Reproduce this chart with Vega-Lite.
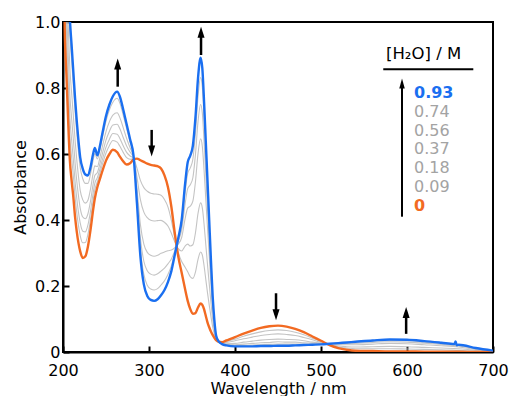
{
"$schema": "https://vega.github.io/schema/vega-lite/v6.json",
"width": 430, "height": 330,
"autosize": {"type": "none"},
"padding": {"left": 63, "top": 22, "right": 17, "bottom": 44},
"background": "white",
"config": {
  "font": "DejaVu Sans",
  "view": {"stroke": "black", "strokeWidth": 2},
  "axis": {"grid": false, "domainColor": "black", "domainWidth": 2, "tickColor": "black", "tickWidth": 2, "tickSize": -6, "labelColor": "black", "labelFontSize": 16, "titleColor": "black", "titleFontSize": 16, "titleFontWeight": "normal", "labelFlush": false}
},
"datasets": {"s": [
{"w":200,"c":"0","a":1.40},{"w":202,"c":"0","a":0.98},{"w":204,"c":"0","a":0.84},{"w":206,"c":"0","a":0.70},{"w":208,"c":"0","a":0.58},{"w":210,"c":"0","a":0.52},{"w":212,"c":"0","a":0.47},{"w":214,"c":"0","a":0.41},{"w":216,"c":"0","a":0.365},{"w":218,"c":"0","a":0.33},{"w":220,"c":"0","a":0.305},{"w":223,"c":"0","a":0.285},{"w":226,"c":"0","a":0.29},{"w":229,"c":"0","a":0.32},{"w":232,"c":"0","a":0.37},{"w":235,"c":"0","a":0.43},{"w":237,"c":"0","a":0.465},{"w":240,"c":"0","a":0.50},{"w":243,"c":"0","a":0.525},{"w":246,"c":"0","a":0.55},{"w":250,"c":"0","a":0.58},{"w":254,"c":"0","a":0.60},{"w":258,"c":"0","a":0.613},{"w":263,"c":"0","a":0.605},{"w":266,"c":"0","a":0.593},{"w":270,"c":"0","a":0.578},{"w":274,"c":"0","a":0.568},{"w":278,"c":"0","a":0.572},{"w":282,"c":"0","a":0.583},{"w":286,"c":"0","a":0.586},{"w":290,"c":"0","a":0.581},{"w":294,"c":"0","a":0.576},{"w":298,"c":"0","a":0.571},{"w":302,"c":"0","a":0.567},{"w":306,"c":"0","a":0.565},{"w":310,"c":"0","a":0.563},{"w":314,"c":"0","a":0.556},{"w":318,"c":"0","a":0.535},{"w":322,"c":"0","a":0.50},{"w":326,"c":"0","a":0.44},{"w":330,"c":"0","a":0.36},{"w":334,"c":"0","a":0.29},{"w":338,"c":"0","a":0.24},{"w":342,"c":"0","a":0.19},{"w":345,"c":"0","a":0.155},{"w":348,"c":"0","a":0.13},{"w":351,"c":"0","a":0.116},{"w":354,"c":"0","a":0.118},{"w":357,"c":"0","a":0.135},{"w":360,"c":"0","a":0.147},{"w":362,"c":"0","a":0.143},{"w":364,"c":"0","a":0.13},{"w":366,"c":"0","a":0.11},{"w":368,"c":"0","a":0.09},{"w":370,"c":"0","a":0.075},{"w":372,"c":"0","a":0.062},{"w":374,"c":"0","a":0.052},{"w":376,"c":"0","a":0.043},{"w":378,"c":"0","a":0.036},{"w":381,"c":"0","a":0.031},{"w":385,"c":"0","a":0.030},{"w":390,"c":"0","a":0.035},{"w":400,"c":"0","a":0.045},{"w":410,"c":"0","a":0.056},{"w":420,"c":"0","a":0.065},{"w":430,"c":"0","a":0.073},{"w":440,"c":"0","a":0.078},{"w":450,"c":"0","a":0.080},{"w":460,"c":"0","a":0.077},{"w":470,"c":"0","a":0.070},{"w":480,"c":"0","a":0.060},{"w":490,"c":"0","a":0.047},{"w":500,"c":"0","a":0.034},{"w":510,"c":"0","a":0.021},{"w":520,"c":"0","a":0.012},{"w":530,"c":"0","a":0.007},{"w":540,"c":"0","a":0.004},{"w":560,"c":"0","a":0.003},{"w":580,"c":"0","a":0.002},{"w":600,"c":"0","a":0.002},{"w":620,"c":"0","a":0.001},{"w":640,"c":"0","a":0.001},{"w":660,"c":"0","a":0.001},{"w":680,"c":"0","a":0},{"w":700,"c":"0","a":0},

{"w":200,"c":"0.09","a":1.43},{"w":202,"c":"0.09","a":1.06},{"w":204,"c":"0.09","a":0.918},{"w":206,"c":"0.09","a":0.777},{"w":208,"c":"0.09","a":0.653},{"w":210,"c":"0.09","a":0.590},{"w":212,"c":"0.09","a":0.535},{"w":214,"c":"0.09","a":0.471},{"w":216,"c":"0.09","a":0.422},{"w":218,"c":"0.09","a":0.383},{"w":220,"c":"0.09","a":0.353},{"w":223,"c":"0.09","a":0.331},{"w":226,"c":"0.09","a":0.332},{"w":229,"c":"0.09","a":0.357},{"w":232,"c":"0.09","a":0.402},{"w":235,"c":"0.09","a":0.459},{"w":237,"c":"0.09","a":0.491},{"w":240,"c":"0.09","a":0.516},{"w":243,"c":"0.09","a":0.542},{"w":246,"c":"0.09","a":0.570},{"w":250,"c":"0.09","a":0.603},{"w":254,"c":"0.09","a":0.626},{"w":258,"c":"0.09","a":0.641},{"w":263,"c":"0.09","a":0.636},{"w":266,"c":"0.09","a":0.624},{"w":270,"c":"0.09","a":0.605},{"w":274,"c":"0.09","a":0.589},{"w":278,"c":"0.09","a":0.584},{"w":282,"c":"0.09","a":0.585},{"w":286,"c":"0.09","a":0.557},{"w":290,"c":"0.09","a":0.520},{"w":294,"c":"0.09","a":0.498},{"w":298,"c":"0.09","a":0.487},{"w":302,"c":"0.09","a":0.481},{"w":306,"c":"0.09","a":0.479},{"w":310,"c":"0.09","a":0.478},{"w":314,"c":"0.09","a":0.475},{"w":318,"c":"0.09","a":0.462},{"w":322,"c":"0.09","a":0.440},{"w":326,"c":"0.09","a":0.399},{"w":330,"c":"0.09","a":0.346},{"w":334,"c":"0.09","a":0.302},{"w":338,"c":"0.09","a":0.274},{"w":342,"c":"0.09","a":0.257},{"w":345,"c":"0.09","a":0.243},{"w":348,"c":"0.09","a":0.228},{"w":351,"c":"0.09","a":0.223},{"w":354,"c":"0.09","a":0.242},{"w":357,"c":"0.09","a":0.281},{"w":360,"c":"0.09","a":0.303},{"w":362,"c":"0.09","a":0.294},{"w":364,"c":"0.09","a":0.262},{"w":366,"c":"0.09","a":0.221},{"w":368,"c":"0.09","a":0.180},{"w":370,"c":"0.09","a":0.143},{"w":372,"c":"0.09","a":0.108},{"w":374,"c":"0.09","a":0.077},{"w":376,"c":"0.09","a":0.054},{"w":378,"c":"0.09","a":0.039},{"w":381,"c":"0.09","a":0.031},{"w":385,"c":"0.09","a":0.029},{"w":390,"c":"0.09","a":0.032},{"w":400,"c":"0.09","a":0.039},{"w":410,"c":"0.09","a":0.048},{"w":420,"c":"0.09","a":0.055},{"w":430,"c":"0.09","a":0.061},{"w":440,"c":"0.09","a":0.065},{"w":450,"c":"0.09","a":0.067},{"w":460,"c":"0.09","a":0.065},{"w":470,"c":"0.09","a":0.060},{"w":480,"c":"0.09","a":0.052},{"w":490,"c":"0.09","a":0.042},{"w":500,"c":"0.09","a":0.032},{"w":510,"c":"0.09","a":0.022},{"w":520,"c":"0.09","a":0.015},{"w":530,"c":"0.09","a":0.012},{"w":540,"c":"0.09","a":0.010},{"w":560,"c":"0.09","a":0.010},{"w":580,"c":"0.09","a":0.010},{"w":600,"c":"0.09","a":0.009},{"w":620,"c":"0.09","a":0.008},{"w":640,"c":"0.09","a":0.007},{"w":660,"c":"0.09","a":0.005},{"w":680,"c":"0.09","a":0.003},{"w":700,"c":"0.09","a":0.001},

{"w":200,"c":"0.18","a":1.46},{"w":202,"c":"0.18","a":1.12},{"w":204,"c":"0.18","a":0.978},{"w":206,"c":"0.18","a":0.835},{"w":208,"c":"0.18","a":0.709},{"w":210,"c":"0.18","a":0.643},{"w":212,"c":"0.18","a":0.584},{"w":214,"c":"0.18","a":0.518},{"w":216,"c":"0.18","a":0.466},{"w":218,"c":"0.18","a":0.423},{"w":220,"c":"0.18","a":0.391},{"w":223,"c":"0.18","a":0.366},{"w":226,"c":"0.18","a":0.364},{"w":229,"c":"0.18","a":0.385},{"w":232,"c":"0.18","a":0.427},{"w":235,"c":"0.18","a":0.481},{"w":237,"c":"0.18","a":0.511},{"w":240,"c":"0.18","a":0.529},{"w":243,"c":"0.18","a":0.555},{"w":246,"c":"0.18","a":0.585},{"w":250,"c":"0.18","a":0.621},{"w":254,"c":"0.18","a":0.645},{"w":258,"c":"0.18","a":0.662},{"w":263,"c":"0.18","a":0.660},{"w":266,"c":"0.18","a":0.648},{"w":270,"c":"0.18","a":0.625},{"w":274,"c":"0.18","a":0.605},{"w":278,"c":"0.18","a":0.594},{"w":282,"c":"0.18","a":0.587},{"w":286,"c":"0.18","a":0.530},{"w":290,"c":"0.18","a":0.462},{"w":294,"c":"0.18","a":0.424},{"w":298,"c":"0.18","a":0.407},{"w":302,"c":"0.18","a":0.399},{"w":306,"c":"0.18","a":0.397},{"w":310,"c":"0.18","a":0.398},{"w":314,"c":"0.18","a":0.399},{"w":318,"c":"0.18","a":0.393},{"w":322,"c":"0.18","a":0.382},{"w":326,"c":"0.18","a":0.360},{"w":330,"c":"0.18","a":0.333},{"w":334,"c":"0.18","a":0.313},{"w":338,"c":"0.18","a":0.306},{"w":342,"c":"0.18","a":0.321},{"w":345,"c":"0.18","a":0.327},{"w":348,"c":"0.18","a":0.321},{"w":351,"c":"0.18","a":0.325},{"w":354,"c":"0.18","a":0.361},{"w":357,"c":"0.18","a":0.420},{"w":360,"c":"0.18","a":0.452},{"w":362,"c":"0.18","a":0.437},{"w":364,"c":"0.18","a":0.388},{"w":366,"c":"0.18","a":0.327},{"w":368,"c":"0.18","a":0.266},{"w":370,"c":"0.18","a":0.208},{"w":372,"c":"0.18","a":0.151},{"w":374,"c":"0.18","a":0.100},{"w":376,"c":"0.18","a":0.065},{"w":378,"c":"0.18","a":0.042},{"w":381,"c":"0.18","a":0.031},{"w":385,"c":"0.18","a":0.028},{"w":390,"c":"0.18","a":0.029},{"w":400,"c":"0.18","a":0.034},{"w":410,"c":"0.18","a":0.040},{"w":420,"c":"0.18","a":0.045},{"w":430,"c":"0.18","a":0.050},{"w":440,"c":"0.18","a":0.053},{"w":450,"c":"0.18","a":0.055},{"w":460,"c":"0.18","a":0.053},{"w":470,"c":"0.18","a":0.050},{"w":480,"c":"0.18","a":0.044},{"w":490,"c":"0.18","a":0.037},{"w":500,"c":"0.18","a":0.029},{"w":510,"c":"0.18","a":0.023},{"w":520,"c":"0.18","a":0.018},{"w":530,"c":"0.18","a":0.016},{"w":540,"c":"0.18","a":0.015},{"w":560,"c":"0.18","a":0.016},{"w":580,"c":"0.18","a":0.017},{"w":600,"c":"0.18","a":0.016},{"w":620,"c":"0.18","a":0.014},{"w":640,"c":"0.18","a":0.012},{"w":660,"c":"0.18","a":0.010},{"w":680,"c":"0.18","a":0.005},{"w":700,"c":"0.18","a":0.002},

{"w":200,"c":"0.37","a":1.49},{"w":202,"c":"0.37","a":1.20},{"w":204,"c":"0.37","a":1.052},{"w":206,"c":"0.37","a":0.907},{"w":208,"c":"0.37","a":0.778},{"w":210,"c":"0.37","a":0.709},{"w":212,"c":"0.37","a":0.645},{"w":214,"c":"0.37","a":0.576},{"w":216,"c":"0.37","a":0.519},{"w":218,"c":"0.37","a":0.473},{"w":220,"c":"0.37","a":0.436},{"w":223,"c":"0.37","a":0.409},{"w":226,"c":"0.37","a":0.404},{"w":229,"c":"0.37","a":0.419},{"w":232,"c":"0.37","a":0.457},{"w":235,"c":"0.37","a":0.508},{"w":237,"c":"0.37","a":0.535},{"w":240,"c":"0.37","a":0.544},{"w":243,"c":"0.37","a":0.571},{"w":246,"c":"0.37","a":0.603},{"w":250,"c":"0.37","a":0.642},{"w":254,"c":"0.37","a":0.669},{"w":258,"c":"0.37","a":0.688},{"w":263,"c":"0.37","a":0.690},{"w":266,"c":"0.37","a":0.677},{"w":270,"c":"0.37","a":0.650},{"w":274,"c":"0.37","a":0.624},{"w":278,"c":"0.37","a":0.606},{"w":282,"c":"0.37","a":0.589},{"w":286,"c":"0.37","a":0.495},{"w":290,"c":"0.37","a":0.386},{"w":294,"c":"0.37","a":0.327},{"w":298,"c":"0.37","a":0.302},{"w":302,"c":"0.37","a":0.293},{"w":306,"c":"0.37","a":0.290},{"w":310,"c":"0.37","a":0.293},{"w":314,"c":"0.37","a":0.299},{"w":318,"c":"0.37","a":0.303},{"w":322,"c":"0.37","a":0.307},{"w":326,"c":"0.37","a":0.309},{"w":330,"c":"0.37","a":0.316},{"w":334,"c":"0.37","a":0.327},{"w":338,"c":"0.37","a":0.347},{"w":342,"c":"0.37","a":0.404},{"w":345,"c":"0.37","a":0.436},{"w":348,"c":"0.37","a":0.442},{"w":351,"c":"0.37","a":0.457},{"w":354,"c":"0.37","a":0.515},{"w":357,"c":"0.37","a":0.601},{"w":360,"c":"0.37","a":0.646},{"w":362,"c":"0.37","a":0.623},{"w":364,"c":"0.37","a":0.552},{"w":366,"c":"0.37","a":0.465},{"w":368,"c":"0.37","a":0.378},{"w":370,"c":"0.37","a":0.293},{"w":372,"c":"0.37","a":0.208},{"w":374,"c":"0.37","a":0.131},{"w":376,"c":"0.37","a":0.079},{"w":378,"c":"0.37","a":0.045},{"w":381,"c":"0.37","a":0.032},{"w":385,"c":"0.37","a":0.026},{"w":390,"c":"0.37","a":0.025},{"w":400,"c":"0.37","a":0.026},{"w":410,"c":"0.37","a":0.030},{"w":420,"c":"0.37","a":0.033},{"w":430,"c":"0.37","a":0.036},{"w":440,"c":"0.37","a":0.038},{"w":450,"c":"0.37","a":0.039},{"w":460,"c":"0.37","a":0.038},{"w":470,"c":"0.37","a":0.037},{"w":480,"c":"0.37","a":0.034},{"w":490,"c":"0.37","a":0.030},{"w":500,"c":"0.37","a":0.027},{"w":510,"c":"0.37","a":0.024},{"w":520,"c":"0.37","a":0.022},{"w":530,"c":"0.37","a":0.022},{"w":540,"c":"0.37","a":0.022},{"w":560,"c":"0.37","a":0.024},{"w":580,"c":"0.37","a":0.026},{"w":600,"c":"0.37","a":0.025},{"w":620,"c":"0.37","a":0.022},{"w":640,"c":"0.37","a":0.019},{"w":660,"c":"0.37","a":0.015},{"w":680,"c":"0.37","a":0.008},{"w":700,"c":"0.37","a":0.003},

{"w":200,"c":"0.56","a":1.53},{"w":202,"c":"0.56","a":1.29},{"w":204,"c":"0.56","a":1.139},{"w":206,"c":"0.56","a":0.993},{"w":208,"c":"0.56","a":0.860},{"w":210,"c":"0.56","a":0.787},{"w":212,"c":"0.56","a":0.717},{"w":214,"c":"0.56","a":0.644},{"w":216,"c":"0.56","a":0.583},{"w":218,"c":"0.56","a":0.532},{"w":220,"c":"0.56","a":0.490},{"w":223,"c":"0.56","a":0.461},{"w":226,"c":"0.56","a":0.451},{"w":229,"c":"0.56","a":0.460},{"w":232,"c":"0.56","a":0.494},{"w":235,"c":"0.56","a":0.541},{"w":237,"c":"0.56","a":0.564},{"w":240,"c":"0.56","a":0.562},{"w":243,"c":"0.56","a":0.590},{"w":246,"c":"0.56","a":0.625},{"w":250,"c":"0.56","a":0.668},{"w":254,"c":"0.56","a":0.698},{"w":258,"c":"0.56","a":0.718},{"w":263,"c":"0.56","a":0.725},{"w":266,"c":"0.56","a":0.711},{"w":270,"c":"0.56","a":0.680},{"w":274,"c":"0.56","a":0.647},{"w":278,"c":"0.56","a":0.619},{"w":282,"c":"0.56","a":0.591},{"w":286,"c":"0.56","a":0.476},{"w":290,"c":"0.56","a":0.345},{"w":294,"c":"0.56","a":0.275},{"w":298,"c":"0.56","a":0.246},{"w":302,"c":"0.56","a":0.236},{"w":306,"c":"0.56","a":0.233},{"w":310,"c":"0.56","a":0.237},{"w":314,"c":"0.56","a":0.245},{"w":318,"c":"0.56","a":0.254},{"w":322,"c":"0.56","a":0.267},{"w":326,"c":"0.56","a":0.282},{"w":330,"c":"0.56","a":0.307},{"w":334,"c":"0.56","a":0.335},{"w":338,"c":"0.56","a":0.370},{"w":342,"c":"0.56","a":0.449},{"w":345,"c":"0.56","a":0.495},{"w":348,"c":"0.56","a":0.507},{"w":351,"c":"0.56","a":0.528},{"w":354,"c":"0.56","a":0.598},{"w":357,"c":"0.56","a":0.698},{"w":360,"c":"0.56","a":0.750},{"w":362,"c":"0.56","a":0.724},{"w":364,"c":"0.56","a":0.640},{"w":366,"c":"0.56","a":0.539},{"w":368,"c":"0.56","a":0.438},{"w":370,"c":"0.56","a":0.338},{"w":372,"c":"0.56","a":0.239},{"w":374,"c":"0.56","a":0.148},{"w":376,"c":"0.56","a":0.087},{"w":378,"c":"0.56","a":0.047},{"w":381,"c":"0.56","a":0.032},{"w":385,"c":"0.56","a":0.025},{"w":390,"c":"0.56","a":0.023},{"w":400,"c":"0.56","a":0.022},{"w":410,"c":"0.56","a":0.024},{"w":420,"c":"0.56","a":0.026},{"w":430,"c":"0.56","a":0.028},{"w":440,"c":"0.56","a":0.029},{"w":450,"c":"0.56","a":0.031},{"w":460,"c":"0.56","a":0.030},{"w":470,"c":"0.56","a":0.030},{"w":480,"c":"0.56","a":0.028},{"w":490,"c":"0.56","a":0.027},{"w":500,"c":"0.56","a":0.025},{"w":510,"c":"0.56","a":0.024},{"w":520,"c":"0.56","a":0.024},{"w":530,"c":"0.56","a":0.025},{"w":540,"c":"0.56","a":0.026},{"w":560,"c":"0.56","a":0.029},{"w":580,"c":"0.56","a":0.031},{"w":600,"c":"0.56","a":0.030},{"w":620,"c":"0.56","a":0.027},{"w":640,"c":"0.56","a":0.023},{"w":660,"c":"0.56","a":0.018},{"w":680,"c":"0.56","a":0.010},{"w":700,"c":"0.56","a":0.003},

{"w":200,"c":"0.74","a":1.58},{"w":202,"c":"0.74","a":1.40},{"w":204,"c":"0.74","a":1.249},{"w":206,"c":"0.74","a":1.101},{"w":208,"c":"0.74","a":0.963},{"w":210,"c":"0.74","a":0.885},{"w":212,"c":"0.74","a":0.808},{"w":214,"c":"0.74","a":0.730},{"w":216,"c":"0.74","a":0.663},{"w":218,"c":"0.74","a":0.606},{"w":220,"c":"0.74","a":0.559},{"w":223,"c":"0.74","a":0.525},{"w":226,"c":"0.74","a":0.511},{"w":229,"c":"0.74","a":0.511},{"w":232,"c":"0.74","a":0.539},{"w":235,"c":"0.74","a":0.581},{"w":237,"c":"0.74","a":0.601},{"w":240,"c":"0.74","a":0.585},{"w":243,"c":"0.74","a":0.614},{"w":246,"c":"0.74","a":0.652},{"w":250,"c":"0.74","a":0.700},{"w":254,"c":"0.74","a":0.734},{"w":258,"c":"0.74","a":0.757},{"w":263,"c":"0.74","a":0.769},{"w":266,"c":"0.74","a":0.755},{"w":270,"c":"0.74","a":0.718},{"w":274,"c":"0.74","a":0.677},{"w":278,"c":"0.74","a":0.637},{"w":282,"c":"0.74","a":0.594},{"w":286,"c":"0.74","a":0.461},{"w":290,"c":"0.74","a":0.313},{"w":294,"c":"0.74","a":0.235},{"w":298,"c":"0.74","a":0.202},{"w":302,"c":"0.74","a":0.191},{"w":306,"c":"0.74","a":0.188},{"w":310,"c":"0.74","a":0.192},{"w":314,"c":"0.74","a":0.203},{"w":318,"c":"0.74","a":0.216},{"w":322,"c":"0.74","a":0.235},{"w":326,"c":"0.74","a":0.261},{"w":330,"c":"0.74","a":0.300},{"w":334,"c":"0.74","a":0.341},{"w":338,"c":"0.74","a":0.387},{"w":342,"c":"0.74","a":0.484},{"w":345,"c":"0.74","a":0.541},{"w":348,"c":"0.74","a":0.558},{"w":351,"c":"0.74","a":0.584},{"w":354,"c":"0.74","a":0.663},{"w":357,"c":"0.74","a":0.774},{"w":360,"c":"0.74","a":0.832},{"w":362,"c":"0.74","a":0.803},{"w":364,"c":"0.74","a":0.710},{"w":366,"c":"0.74","a":0.598},{"w":368,"c":"0.74","a":0.486},{"w":370,"c":"0.74","a":0.374},{"w":372,"c":"0.74","a":0.263},{"w":374,"c":"0.74","a":0.161},{"w":376,"c":"0.74","a":0.093},{"w":378,"c":"0.74","a":0.049},{"w":381,"c":"0.74","a":0.032},{"w":385,"c":"0.74","a":0.024},{"w":390,"c":"0.74","a":0.021},{"w":400,"c":"0.74","a":0.019},{"w":410,"c":"0.74","a":0.020},{"w":420,"c":"0.74","a":0.021},{"w":430,"c":"0.74","a":0.022},{"w":440,"c":"0.74","a":0.023},{"w":450,"c":"0.74","a":0.024},{"w":460,"c":"0.74","a":0.024},{"w":470,"c":"0.74","a":0.024},{"w":480,"c":"0.74","a":0.024},{"w":490,"c":"0.74","a":0.024},{"w":500,"c":"0.74","a":0.024},{"w":510,"c":"0.74","a":0.025},{"w":520,"c":"0.74","a":0.026},{"w":530,"c":"0.74","a":0.027},{"w":540,"c":"0.74","a":0.029},{"w":560,"c":"0.74","a":0.032},{"w":580,"c":"0.74","a":0.035},{"w":600,"c":"0.74","a":0.034},{"w":620,"c":"0.74","a":0.030},{"w":640,"c":"0.74","a":0.026},{"w":660,"c":"0.74","a":0.020},{"w":680,"c":"0.74","a":0.011},{"w":700,"c":"0.74","a":0.004},

{"w":200,"c":"0.93","a":1.60},{"w":202,"c":"0.93","a":1.45},{"w":204,"c":"0.93","a":1.30},{"w":206,"c":"0.93","a":1.15},{"w":208,"c":"0.93","a":1.01},{"w":210,"c":"0.93","a":0.93},{"w":212,"c":"0.93","a":0.85},{"w":214,"c":"0.93","a":0.77},{"w":216,"c":"0.93","a":0.70},{"w":218,"c":"0.93","a":0.64},{"w":220,"c":"0.93","a":0.59},{"w":223,"c":"0.93","a":0.555},{"w":226,"c":"0.93","a":0.538},{"w":229,"c":"0.93","a":0.535},{"w":232,"c":"0.93","a":0.56},{"w":235,"c":"0.93","a":0.60},{"w":237,"c":"0.93","a":0.618},{"w":240,"c":"0.93","a":0.596},{"w":243,"c":"0.93","a":0.625},{"w":246,"c":"0.93","a":0.665},{"w":250,"c":"0.93","a":0.715},{"w":254,"c":"0.93","a":0.75},{"w":258,"c":"0.93","a":0.775},{"w":263,"c":"0.93","a":0.789},{"w":266,"c":"0.93","a":0.775},{"w":270,"c":"0.93","a":0.735},{"w":274,"c":"0.93","a":0.69},{"w":278,"c":"0.93","a":0.645},{"w":282,"c":"0.93","a":0.595},{"w":286,"c":"0.93","a":0.45},{"w":290,"c":"0.93","a":0.29},{"w":294,"c":"0.93","a":0.205},{"w":298,"c":"0.93","a":0.17},{"w":302,"c":"0.93","a":0.158},{"w":306,"c":"0.93","a":0.155},{"w":310,"c":"0.93","a":0.16},{"w":314,"c":"0.93","a":0.172},{"w":318,"c":"0.93","a":0.188},{"w":322,"c":"0.93","a":0.212},{"w":326,"c":"0.93","a":0.245},{"w":330,"c":"0.93","a":0.295},{"w":334,"c":"0.93","a":0.345},{"w":338,"c":"0.93","a":0.40},{"w":342,"c":"0.93","a":0.51},{"w":345,"c":"0.93","a":0.575},{"w":348,"c":"0.93","a":0.595},{"w":351,"c":"0.93","a":0.625},{"w":354,"c":"0.93","a":0.71},{"w":357,"c":"0.93","a":0.83},{"w":360,"c":"0.93","a":0.892},{"w":362,"c":"0.93","a":0.86},{"w":364,"c":"0.93","a":0.76},{"w":366,"c":"0.93","a":0.64},{"w":368,"c":"0.93","a":0.52},{"w":370,"c":"0.93","a":0.40},{"w":372,"c":"0.93","a":0.28},{"w":374,"c":"0.93","a":0.17},{"w":376,"c":"0.93","a":0.097},{"w":378,"c":"0.93","a":0.05},{"w":381,"c":"0.93","a":0.032},{"w":385,"c":"0.93","a":0.024},{"w":390,"c":"0.93","a":0.020},{"w":400,"c":"0.93","a":0.017},{"w":410,"c":"0.93","a":0.017},{"w":420,"c":"0.93","a":0.017},{"w":430,"c":"0.93","a":0.018},{"w":440,"c":"0.93","a":0.018},{"w":450,"c":"0.93","a":0.019},{"w":460,"c":"0.93","a":0.019},{"w":470,"c":"0.93","a":0.020},{"w":480,"c":"0.93","a":0.021},{"w":490,"c":"0.93","a":0.022},{"w":500,"c":"0.93","a":0.023},{"w":510,"c":"0.93","a":0.025},{"w":520,"c":"0.93","a":0.027},{"w":530,"c":"0.93","a":0.029},{"w":540,"c":"0.93","a":0.031},{"w":560,"c":"0.93","a":0.035},{"w":580,"c":"0.93","a":0.038},{"w":600,"c":"0.93","a":0.037},{"w":620,"c":"0.93","a":0.033},{"w":640,"c":"0.93","a":0.028},{"w":655,"c":"0.93","a":0.024},{"w":656.5,"c":"0.93","a":0.032},{"w":658,"c":"0.93","a":0.020},{"w":660,"c":"0.93","a":0.022},{"w":680,"c":"0.93","a":0.012},{"w":700,"c":"0.93","a":0.004}
]},
"layer": [
{"data": {"name": "s"}, "transform": [{"filter": "datum.c !== '0' && datum.c !== '0.93'"}],
 "mark": {"type": "line", "interpolate": "monotone", "clip": true, "strokeWidth": 1.1},
 "encoding": {
  "x": {"field": "w", "type": "quantitative", "scale": {"domain": [200, 700], "nice": false}, "axis": {"title": "Wavelength / nm", "values": [200, 300, 400, 500, 600, 700], "labelPadding": 16, "titlePadding": 2, "labelFlush": false}},
  "y": {"field": "a", "type": "quantitative", "scale": {"domain": [0, 1], "nice": false}, "axis": {"title": "Absorbance", "values": [0, 0.2, 0.4, 0.6, 0.8, 1.0], "labelExpr": "datum.value == 0 ? '0' : format(datum.value, '.1f')", "labelPadding": 9, "titlePadding": 6}},
  "color": {"field": "c", "type": "nominal",
   "scale": {"domain": ["0.93", "0.74", "0.56", "0.37", "0.18", "0.09", "0"], "range": ["#1a6ff0", "#c4c4c4", "#c4c4c4", "#c4c4c4", "#c4c4c4", "#c4c4c4", "#f26a22"]},
   "legend": {"orient": "none", "legendX": 323, "legendY": 24, "title": "[H₂O] / M", "titleFontSize": 16.5, "titleFontWeight": "normal", "titleColor": "black", "titlePadding": 22.5, "symbolOpacity": 0, "symbolSize": 256, "symbolStrokeWidth": 0, "labelOffset": 12, "labelFontSize": 16, "rowPadding": 2.8, "padding": 0,
     "encode": {"labels": {"update": {"fill": {"signal": "datum.value === '0.93' ? '#1a6ff0' : datum.value === '0' ? '#f26a22' : '#a3a3a3'"}, "fontWeight": {"signal": "datum.value === '0.93' || datum.value === '0' ? 'bold' : 'normal'"}}}}}}
 }},
{"data": {"name": "s"}, "transform": [{"filter": "datum.c === '0'"}],
 "mark": {"type": "line", "interpolate": "monotone", "clip": true, "strokeWidth": 2.4},
 "encoding": {"x": {"field": "w", "type": "quantitative"}, "y": {"field": "a", "type": "quantitative"}, "color": {"field": "c", "type": "nominal"}}},
{"data": {"name": "s"}, "transform": [{"filter": "datum.c === '0.93'"}],
 "mark": {"type": "line", "interpolate": "monotone", "clip": true, "strokeWidth": 2.4},
 "encoding": {"x": {"field": "w", "type": "quantitative"}, "y": {"field": "a", "type": "quantitative"}, "color": {"field": "c", "type": "nominal"}}},

{"data": {"values": [{}]}, "mark": {"type": "rule", "color": "black", "strokeWidth": 2.5}, "encoding": {"x": {"datum": 263.6, "type": "quantitative"}, "y": {"datum": 0.804, "type": "quantitative"}, "y2": {"datum": 0.873}}},
{"data": {"values": [{}]}, "mark": {"type": "point", "shape": "M -0.64 1 L 0 -1 L 0.64 1 Z", "filled": true, "color": "black", "opacity": 1, "size": 121, "strokeWidth": 0}, "encoding": {"x": {"datum": 263.6, "type": "quantitative"}, "y": {"datum": 0.873, "type": "quantitative"}}},

{"data": {"values": [{}]}, "mark": {"type": "rule", "color": "black", "strokeWidth": 2.5}, "encoding": {"x": {"datum": 303.1, "type": "quantitative"}, "y": {"datum": 0.673, "type": "quantitative"}, "y2": {"datum": 0.609}}},
{"data": {"values": [{}]}, "mark": {"type": "point", "shape": "M -0.64 -1 L 0 1 L 0.64 -1 Z", "filled": true, "color": "black", "opacity": 1, "size": 121, "strokeWidth": 0}, "encoding": {"x": {"datum": 303.1, "type": "quantitative"}, "y": {"datum": 0.609, "type": "quantitative"}}},

{"data": {"values": [{}]}, "mark": {"type": "rule", "color": "black", "strokeWidth": 2.5}, "encoding": {"x": {"datum": 360.5, "type": "quantitative"}, "y": {"datum": 0.90, "type": "quantitative"}, "y2": {"datum": 0.969}}},
{"data": {"values": [{}]}, "mark": {"type": "point", "shape": "M -0.64 1 L 0 -1 L 0.64 1 Z", "filled": true, "color": "black", "opacity": 1, "size": 121, "strokeWidth": 0}, "encoding": {"x": {"datum": 360.5, "type": "quantitative"}, "y": {"datum": 0.969, "type": "quantitative"}}},

{"data": {"values": [{}]}, "mark": {"type": "rule", "color": "black", "strokeWidth": 2.5}, "encoding": {"x": {"datum": 447.7, "type": "quantitative"}, "y": {"datum": 0.178, "type": "quantitative"}, "y2": {"datum": 0.113}}},
{"data": {"values": [{}]}, "mark": {"type": "point", "shape": "M -0.64 -1 L 0 1 L 0.64 -1 Z", "filled": true, "color": "black", "opacity": 1, "size": 121, "strokeWidth": 0}, "encoding": {"x": {"datum": 447.7, "type": "quantitative"}, "y": {"datum": 0.113, "type": "quantitative"}}},

{"data": {"values": [{}]}, "mark": {"type": "rule", "color": "black", "strokeWidth": 2.5}, "encoding": {"x": {"datum": 599, "type": "quantitative"}, "y": {"datum": 0.055, "type": "quantitative"}, "y2": {"datum": 0.12}}},
{"data": {"values": [{}]}, "mark": {"type": "point", "shape": "M -0.64 1 L 0 -1 L 0.64 1 Z", "filled": true, "color": "black", "opacity": 1, "size": 121, "strokeWidth": 0}, "encoding": {"x": {"datum": 599, "type": "quantitative"}, "y": {"datum": 0.12, "type": "quantitative"}}},

{"data": {"values": [{}]}, "mark": {"type": "rule", "color": "black", "strokeWidth": 2}, "encoding": {"x": {"datum": 594.2, "type": "quantitative"}, "y": {"datum": 0.41, "type": "quantitative"}, "y2": {"datum": 0.812}}},
{"data": {"values": [{}]}, "mark": {"type": "point", "shape": "M -0.55 1 L 0 -1 L 0.55 1 Z", "filled": true, "color": "black", "opacity": 1, "size": 100, "strokeWidth": 0}, "encoding": {"x": {"datum": 594.2, "type": "quantitative"}, "y": {"datum": 0.814, "type": "quantitative"}}},

{"data": {"values": [{}]}, "mark": {"type": "rule", "color": "black", "strokeWidth": 2}, "encoding": {"x": {"datum": 572.4, "type": "quantitative"}, "x2": {"datum": 677.1}, "y": {"datum": 0.857, "type": "quantitative"}}}
]
}
